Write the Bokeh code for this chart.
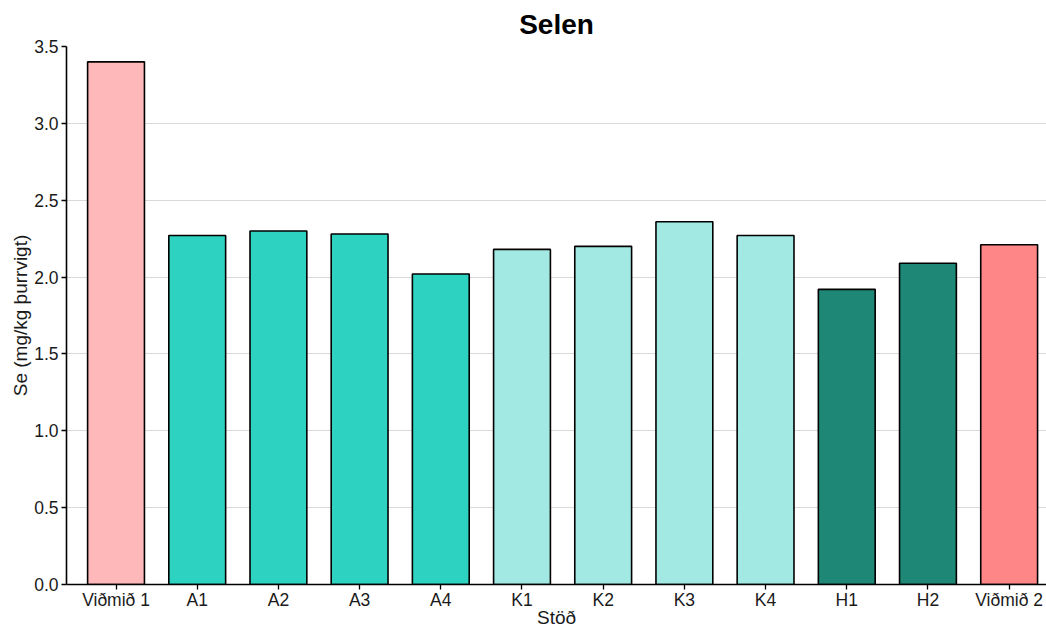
from bokeh.plotting import figure
from bokeh.models import Range1d, FixedTicker, NumeralTickFormatter, ColumnDataSource
from bokeh.embed import file_html
from bokeh.resources import INLINE

stations = ["Viðmið 1", "A1", "A2", "A3", "A4", "K1", "K2", "K3", "K4", "H1", "H2", "Viðmið 2"]
selen = [3.40, 2.27, 2.30, 2.28, 2.02, 2.18, 2.20, 2.36, 2.27, 1.92, 2.09, 2.21]
colors = ["#ffb8ba", "#2dd2c1", "#2dd2c1", "#2dd2c1", "#2dd2c1",
          "#a1e9e2", "#a1e9e2", "#a1e9e2", "#a1e9e2",
          "#1f8776", "#1f8776", "#ff8686"]
y_ticks = [0.0, 0.5, 1.0, 1.5, 2.0, 2.5, 3.0, 3.5]

xs = list(range(len(stations)))
src = ColumnDataSource(dict(x=xs, top=selen, color=colors))

FONT = "Liberation Sans"

p = figure(width=1046, height=630, output_backend="svg", toolbar_location=None,
           x_range=Range1d(-0.61, 11.46), y_range=Range1d(0, 3.5),
           min_border_left=66, min_border_right=0, min_border_top=0, min_border_bottom=46)

p.vbar(x="x", top="top", width=0.7, bottom=0, fill_color="color",
       line_color="black", line_width=1.6, source=src)

p.title.text = "Selen"
p.title.align = "center"
p.title.text_font = FONT
p.title.text_font_size = "28px"
p.title.text_font_style = "bold"
p.title.text_color = "black"
p.title.standoff = 13

p.outline_line_color = None
p.xgrid.grid_line_color = None
p.ygrid.grid_line_color = "#d9d9d9"
p.ygrid.grid_line_width = 1.2

p.xaxis.ticker = FixedTicker(ticks=xs)
p.xaxis.major_label_overrides = {i: s for i, s in enumerate(stations)}
p.xaxis.axis_label = "Stöð"
p.yaxis.ticker = FixedTicker(ticks=y_ticks)
p.yaxis.formatter = NumeralTickFormatter(format="0.0")
p.yaxis.axis_label = "Se (mg/kg þurrvigt)"

for ax in (p.xaxis, p.yaxis):
    ax.axis_line_color = "black"
    ax.axis_line_width = 1.6
    ax.major_tick_line_color = "black"
    ax.major_tick_line_width = 1.3
    ax.major_tick_out = 5
    ax.major_tick_in = 0
    ax.minor_tick_line_color = None
    ax.major_label_text_font = FONT
    ax.major_label_text_font_size = "17.5px"
    ax.major_label_text_color = "#1a1a1a"
    ax.axis_label_text_font = FONT
    ax.axis_label_text_font_size = "19px"
    ax.axis_label_text_font_style = "normal"
    ax.axis_label_text_color = "#1a1a1a"
p.xaxis.major_label_standoff = 0
p.xaxis.axis_label_standoff = -6
p.yaxis.major_label_standoff = 3
p.yaxis.axis_label_standoff = 0

open("out.html", "w").write(file_html(p, INLINE))
